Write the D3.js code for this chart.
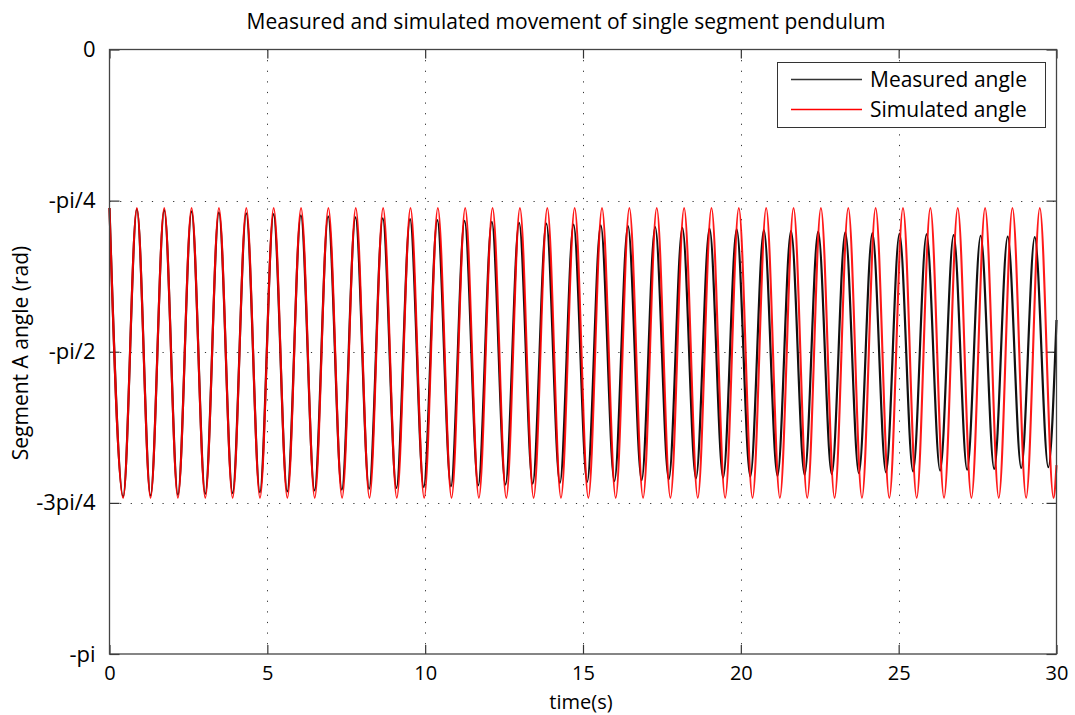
<!DOCTYPE html>
<html><head><meta charset="utf-8">
<script src="https://cdn.jsdelivr.net/npm/d3@7"></script>
<style>body{margin:0;background:#fff} text{font-family:"Open Sans",sans-serif;fill:#000}</style>
</head><body><svg id="c" width="1075" height="715"></svg>
<script>
const titleText = "Measured and simulated movement of single segment pendulum";
const xLabel = "time(s)";
const yLabel = "Segment A angle (rad)";
const xTicks = [0, 5, 10, 15, 20, 25, 30];
const yTickValues = [0, -Math.PI/4, -Math.PI/2, -3*Math.PI/4, -Math.PI];
const yTickLabels = ["0", "-pi/4", "-pi/2", "-3pi/4", "-pi"];
const seriesNames = ["Measured angle", "Simulated angle"];

// Simulated angle: extrema (peaks / troughs), plus end point
const simTime = [0.000,0.433,0.867,1.300,1.734,2.167,2.600,3.034,3.467,3.901,4.334,4.767,5.201,5.634,6.068,6.501,6.934,7.368,7.801,8.235,8.668,9.101,9.535,9.968,10.402,10.835,11.268,11.702,12.135,12.569,13.002,13.435,13.869,14.302,14.736,15.169,15.602,16.036,16.469,16.903,17.336,17.769,18.203,18.636,19.070,19.503,19.936,20.370,20.803,21.237,21.670,22.103,22.537,22.970,23.404,23.837,24.270,24.704,25.137,25.571,26.004,26.437,26.871,27.304,27.738,28.171,28.604,29.038,29.471,29.905,30.000];
const simAngle = [-0.824,-2.330,-0.824,-2.330,-0.824,-2.330,-0.824,-2.330,-0.824,-2.330,-0.824,-2.330,-0.824,-2.330,-0.824,-2.330,-0.824,-2.330,-0.824,-2.330,-0.824,-2.330,-0.824,-2.330,-0.824,-2.330,-0.824,-2.330,-0.824,-2.330,-0.824,-2.330,-0.824,-2.330,-0.824,-2.330,-0.824,-2.330,-0.824,-2.330,-0.824,-2.330,-0.824,-2.330,-0.824,-2.330,-0.824,-2.330,-0.824,-2.330,-0.824,-2.330,-0.824,-2.330,-0.824,-2.330,-0.824,-2.330,-0.824,-2.330,-0.824,-2.330,-0.824,-2.330,-0.824,-2.330,-0.824,-2.330,-0.824,-2.330,-2.160];

// Measured angle: extrema, plus end point
const measTime = [0.000,0.433,0.867,1.300,1.734,2.167,2.600,3.033,3.466,3.899,4.332,4.764,5.197,5.630,6.063,6.495,6.927,7.360,7.792,8.225,8.657,9.089,9.521,9.953,10.385,10.817,11.248,11.681,12.112,12.544,12.976,13.407,13.839,14.269,14.701,15.132,15.563,15.995,16.425,16.857,17.287,17.717,18.148,18.578,19.009,19.439,19.869,20.300,20.730,21.160,21.590,22.019,22.450,22.879,23.309,23.738,24.167,24.597,25.025,25.455,25.883,26.312,26.741,27.169,27.598,28.026,28.454,28.883,29.311,29.740,30.000];
const measAngle = [-0.824,-2.324,-0.830,-2.319,-0.835,-2.315,-0.841,-2.310,-0.846,-2.306,-0.851,-2.301,-0.856,-2.297,-0.862,-2.292,-0.867,-2.288,-0.872,-2.283,-0.877,-2.279,-0.882,-2.274,-0.887,-2.270,-0.891,-2.265,-0.896,-2.261,-0.901,-2.256,-0.905,-2.252,-0.910,-2.247,-0.914,-2.243,-0.918,-2.238,-0.923,-2.234,-0.927,-2.229,-0.931,-2.225,-0.935,-2.220,-0.939,-2.216,-0.943,-2.211,-0.947,-2.207,-0.950,-2.202,-0.954,-2.198,-0.958,-2.193,-0.961,-2.189,-0.965,-2.184,-0.968,-2.180,-0.972,-2.175,-0.975,-2.171,-1.406];

const svg = d3.select("#c");
const L = 109.5, R = 1056.5, T = 49.5, B = 654;
const x = d3.scaleLinear().domain([0, 30]).range([L, R]);
const y = d3.scaleLinear().domain([-Math.PI, 0]).range([B, T]);

// grid
const grid = svg.append("g").attr("stroke", "#333").attr("stroke-width", 1).attr("stroke-dasharray", "1.2,9.4");
grid.selectAll("line.gx").data(xTicks.slice(1, -1)).join("line")
  .attr("x1", d => Math.round(x(d)) + 0.5).attr("x2", d => Math.round(x(d)) + 0.5)
  .attr("y1", T).attr("y2", B);
grid.selectAll("line.gy").data(yTickValues.slice(1, -1)).join("line")
  .attr("y1", d => Math.round(y(d)) + 0.5).attr("y2", d => Math.round(y(d)) + 0.5)
  .attr("x1", L).attr("x2", R);

// axes (inward ticks, MATLAB style)
const ax = svg.append("g");
const xb = ax.append("g").attr("transform", `translate(0,${B})`)
  .call(d3.axisBottom(x).tickValues(xTicks).tickSize(-9).tickPadding(12).tickFormat(d3.format("d")))
  .call(g => g.select(".domain").remove());
ax.append("g").attr("transform", `translate(0,${T})`)
  .call(d3.axisTop(x).tickValues(xTicks).tickSize(-9).tickFormat(""))
  .call(g => g.select(".domain").remove());
const yl = ax.append("g").attr("transform", `translate(${L},0)`)
  .call(d3.axisLeft(y).tickValues(yTickValues).tickSize(-10).tickPadding(14).tickFormat((d, i) => yTickLabels[i]))
  .call(g => g.select(".domain").remove());
ax.append("g").attr("transform", `translate(${R},0)`)
  .call(d3.axisRight(y).tickValues(yTickValues).tickSize(-10).tickFormat(""))
  .call(g => g.select(".domain").remove());
ax.selectAll(".tick line").attr("stroke", "#333").attr("stroke-width", 1.2);
xb.selectAll(".tick text").style("font-size", "20px").attr("fill", "#000");
yl.selectAll(".tick text").style("font-size", "22px").attr("fill", "#000");

// series
const pts = (ts, as) => ts.map((t, i) => [t, as[i]]);
const line = d3.line().x(d => x(d[0])).y(d => y(d[1])).curve(d3.curveMonotoneX);
svg.append("path").datum(pts(measTime, measAngle)).attr("d", line)
  .attr("fill", "none").attr("stroke", "#111").attr("stroke-width", 2.2);
svg.append("path").datum(pts(simTime, simAngle)).attr("d", line)
  .attr("fill", "none").attr("stroke", "#ff0000").attr("stroke-opacity", 0.9).attr("stroke-width", 2.1);

// frame
svg.append("rect").attr("x", L).attr("y", T).attr("width", R - L).attr("height", B - T)
  .attr("fill", "none").attr("stroke", "#444").attr("stroke-width", 1.3);

// title & labels
svg.append("text").attr("x", 566).attr("y", 29).attr("text-anchor", "middle")
  .style("font-size", "21px").text(titleText);
svg.append("text").attr("x", 581).attr("y", 709).attr("text-anchor", "middle")
  .style("font-size", "20px").text(xLabel);
svg.append("text").attr("transform", "translate(28,353) rotate(-90)").attr("text-anchor", "middle")
  .style("font-size", "21px").text(yLabel);

// legend
const lg = svg.append("g");
lg.append("rect").attr("x", 777.5).attr("y", 62.5).attr("width", 268).attr("height", 65)
  .attr("fill", "#fff").attr("stroke", "#333").attr("stroke-width", 1);
const colors = ["#333333", "#ff0000"];
seriesNames.forEach((n, i) => {
  const yy = 79.5 + i * 30;
  lg.append("line").attr("x1", 791).attr("x2", 862).attr("y1", yy).attr("y2", yy)
    .style("stroke", colors[i]).attr("stroke-width", 1.3);
  lg.append("text").attr("x", 870).attr("y", yy + 7).style("font-size", "21px").text(n);
});
</script></body></html>
